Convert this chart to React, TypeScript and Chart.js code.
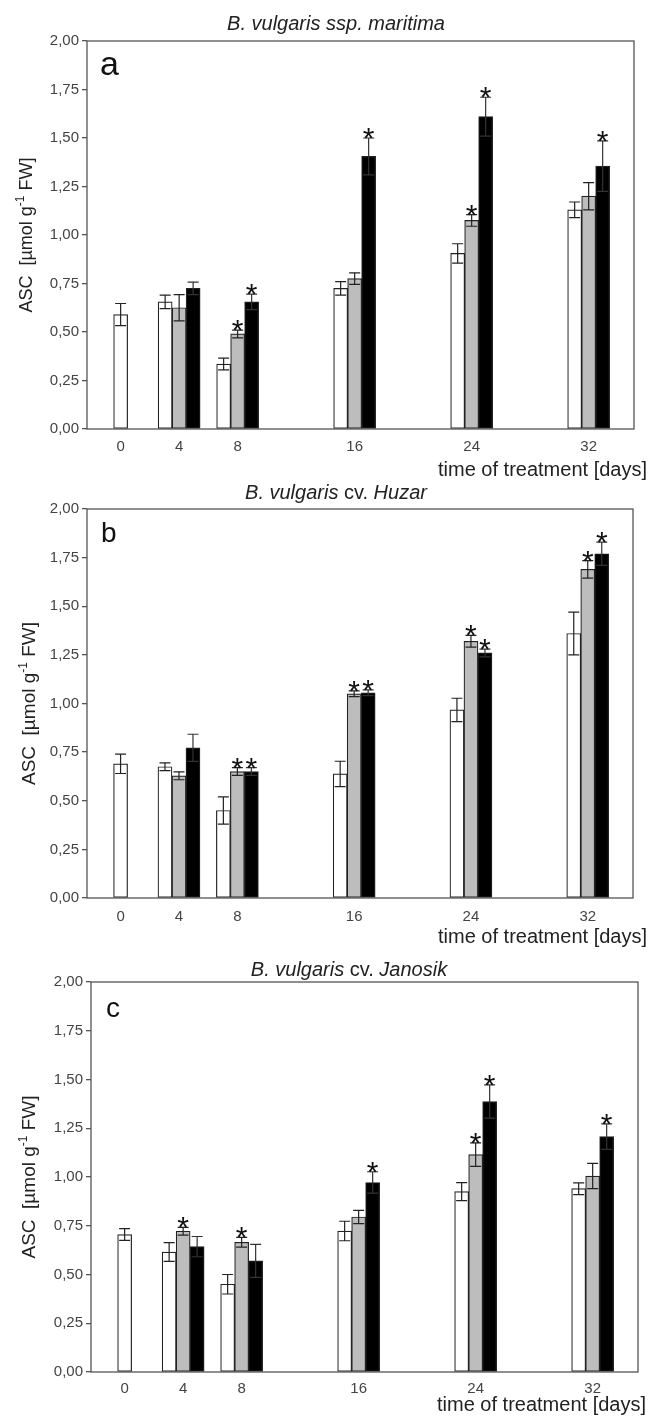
import React, { useEffect, useRef } from "react";
import { Chart, registerables } from "chart.js";
Chart.register(...registerables);

// ---------- data ----------
const days = [0, 4, 8, 16, 24, 32];
const xTickLabels = ["0", "4", "8", "16", "24", "32"];
const yTickValues = [0, 0.25, 0.5, 0.75, 1, 1.25, 1.5, 1.75, 2];
const yTickLabels = ["0,00", "0,25", "0,50", "0,75", "1,00", "1,25", "1,50", "1,75", "2,00"];
const xAxisTitle = "time of treatment [days]";

// panel a – B. vulgaris ssp. maritima
const aWhite = [0.59, 0.655, 0.335, 0.725, 0.905, 1.13];
const aWhiteErr = [0.057, 0.035, 0.03, 0.035, 0.05, 0.04];
const aGray = [null, 0.625, 0.49, 0.775, 1.075, 1.2];
const aGrayErr = [null, 0.068, 0.02, 0.03, 0.03, 0.07];
const aBlack = [null, 0.725, 0.655, 1.405, 1.61, 1.355];
const aBlackErr = [null, 0.032, 0.04, 0.095, 0.1, 0.13];
const aWhiteSig = [false, false, false, false, false, false];
const aGraySig = [false, false, true, false, true, false];
const aBlackSig = [false, false, true, true, true, true];

// panel b – B. vulgaris cv. Huzar
const bWhite = [0.69, 0.675, 0.45, 0.638, 0.967, 1.36];
const bWhiteErr = [0.05, 0.02, 0.07, 0.065, 0.06, 0.11];
const bGray = [null, 0.628, 0.65, 1.05, 1.32, 1.69];
const bGrayErr = [null, 0.02, 0.02, 0.015, 0.03, 0.045];
const bBlack = [null, 0.772, 0.65, 1.055, 1.26, 1.77];
const bBlackErr = [null, 0.07, 0.02, 0.015, 0.02, 0.06];
const bWhiteSig = [false, false, false, false, false, false];
const bGraySig = [false, false, true, true, true, true];
const bBlackSig = [false, false, true, true, true, true];

// panel c – B. vulgaris cv. Janosik
const cWhite = [0.705, 0.615, 0.45, 0.723, 0.925, 0.94];
const cWhiteErr = [0.03, 0.048, 0.05, 0.05, 0.046, 0.03];
const cGray = [null, 0.722, 0.665, 0.795, 1.115, 1.005];
const cGrayErr = [null, 0.02, 0.025, 0.034, 0.06, 0.065];
const cBlack = [null, 0.643, 0.57, 0.972, 1.387, 1.207];
const cBlackErr = [null, 0.052, 0.085, 0.055, 0.085, 0.065];
const cWhiteSig = [false, false, false, false, false, false];
const cGraySig = [false, true, true, false, true, false];
const cBlackSig = [false, false, false, true, true, true];

const aTitle: [string, boolean][] = [["B. vulgaris ssp. maritima", true]];
const bTitle: [string, boolean][] = [["B. vulgaris ", true], ["cv. ", false], ["Huzar", true]];
const cTitle: [string, boolean][] = [["B. vulgaris ", true], ["cv. ", false], ["Janosik", true]];

// ---------- styling / layout ----------
const FONT = "'Liberation Sans', Arial, sans-serif";
const AXIS_COLOR = "#555";
const TEXT_GRAY = "#444";
const FILLS = ["#ffffff", "#bdbdbd", "#000000"];

const panels = [
  {
    letter: "a", letterSize: 34, title: aTitle, canvasTop: 0, H: 480,
    left: 87, right: 634, top: 41, bottom: 429, xPad: 1,
    titleX: 336, titleDy: -17, letterDx: 13, letterDy: 34, xlabDy: 41, xlabRight: 647, ylabX: 27, ylabSize: 18,
    series: [aWhite, aGray, aBlack], errs: [aWhiteErr, aGrayErr, aBlackErr], sigs: [aWhiteSig, aGraySig, aBlackSig],
  },
  {
    letter: "b", letterSize: 28, title: bTitle, canvasTop: 480, H: 468,
    left: 87, right: 633, top: 29, bottom: 418, xPad: 1.5,
    titleX: 336, titleDy: -16, letterDx: 14, letterDy: 33, xlabDy: 39, xlabRight: 647, ylabX: 30, ylabSize: 19,
    series: [bWhite, bGray, bBlack], errs: [bWhiteErr, bGrayErr, bBlackErr], sigs: [bWhiteSig, bGraySig, bBlackSig],
  },
  {
    letter: "c", letterSize: 28, title: cTitle, canvasTop: 948, H: 472,
    left: 91, right: 638, top: 34, bottom: 424, xPad: 0,
    titleX: 349, titleDy: -12, letterDx: 15, letterDy: 35, xlabDy: 33, xlabRight: 646, ylabX: 30, ylabSize: 19,
    series: [cWhite, cGray, cBlack], errs: [cWhiteErr, cGrayErr, cBlackErr], sigs: [cWhiteSig, cGraySig, cBlackSig],
  },
];

const errorBarPlugin = {
  id: "errorBars",
  afterDatasetsDraw(chart: any) {
    const ctx = chart.ctx;
    const ys = chart.scales.y;
    ctx.save();
    chart.data.datasets.forEach((ds: any, di: number) => {
      const meta = chart.getDatasetMeta(di);
      meta.data.forEach((bar: any, i: number) => {
        const v = ds.data[i].y;
        const e = ds.errors[i];
        if (v == null || e == null) return;
        const x = bar.x;
        const yT = ys.getPixelForValue(v + e);
        const yB = ys.getPixelForValue(v - e);
        const cw = 5.5;
        ctx.strokeStyle = di === 2 ? "#333" : "#222";
        ctx.lineWidth = 1.2;
        ctx.beginPath();
        ctx.moveTo(x, yT);
        ctx.lineTo(x, yB);
        ctx.moveTo(x - cw, yT);
        ctx.lineTo(x + cw, yT);
        ctx.moveTo(x - cw, yB);
        ctx.lineTo(x + cw, yB);
        ctx.stroke();
        if (ds.sig[i]) {
          ctx.fillStyle = "#111";
          ctx.font = `30px ${FONT}`;
          ctx.textAlign = "center";
          ctx.textBaseline = "alphabetic";
          const m = ctx.measureText("*");
          const base = yT + 1 - m.actualBoundingBoxDescent;
          ctx.fillText("*", x, base);
        }
      });
    });
    ctx.restore();
  },
};

const annotationPlugin = {
  id: "annotations",
  afterDraw(chart: any) {
    const cfg = chart.options.plugins.annotations;
    const ctx = chart.ctx;
    const ca = chart.chartArea;
    ctx.save();
    // frame
    ctx.strokeStyle = AXIS_COLOR;
    ctx.lineWidth = 1.3;
    ctx.strokeRect(ca.left, ca.top, ca.right - ca.left, ca.bottom - ca.top);
    // title
    ctx.fillStyle = "#222";
    ctx.textBaseline = "middle";
    ctx.textAlign = "left";
    const segs = cfg.title as [string, boolean][];
    const fontOf = (it: boolean) => `${it ? "italic " : ""}20px ${FONT}`;
    let total = 0;
    segs.forEach(([t, it]) => { ctx.font = fontOf(it); total += ctx.measureText(t).width; });
    let x = cfg.titleX - total / 2;
    const ty = ca.top + cfg.titleDy;
    segs.forEach(([t, it]) => { ctx.font = fontOf(it); ctx.fillText(t, x, ty); x += ctx.measureText(t).width; });
    // panel letter
    ctx.fillStyle = "#111";
    ctx.font = `${cfg.letterSize}px ${FONT}`;
    ctx.textBaseline = "alphabetic";
    ctx.fillText(cfg.letter, ca.left + cfg.letterDx, ca.top + cfg.letterDy);
    // x axis title
    ctx.fillStyle = "#222";
    ctx.font = `20px ${FONT}`;
    ctx.textAlign = "right";
    ctx.textBaseline = "middle";
    ctx.fillText(xAxisTitle, cfg.xlabRight, ca.bottom + cfg.xlabDy);
    // y axis title with superscript
    const fs = cfg.ylabSize;
    const ySegs: [string, boolean][] = [["ASC  [µmol g", false], ["-1", true], [" FW]", false]];
    const yFont = (sup: boolean) => `${sup ? Math.round(fs * 0.65) : fs}px ${FONT}`;
    let yt = 0;
    ySegs.forEach(([t, s]) => { ctx.font = yFont(s); yt += ctx.measureText(t).width; });
    ctx.translate(cfg.ylabX, (ca.top + ca.bottom) / 2);
    ctx.rotate(-Math.PI / 2);
    ctx.textAlign = "left";
    ctx.textBaseline = "middle";
    let px = -yt / 2;
    ySegs.forEach(([t, s]) => {
      ctx.font = yFont(s);
      ctx.fillText(t, px, s ? -fs * 0.35 : 0);
      px += ctx.measureText(t).width;
    });
    ctx.restore();
  },
};

function Panel({ p }: { p: any }) {
  const ref = useRef<HTMLCanvasElement | null>(null);
  useEffect(() => {
    if (!ref.current) return;
    const datasets = p.series.map((vals: (number | null)[], k: number) => ({
      label: ["control", "treatment 1", "treatment 2"][k],
      data: days.map((d, i) => ({ x: d, y: vals[i] })),
      errors: p.errs[k],
      sig: p.sigs[k],
      backgroundColor: FILLS[k],
      borderColor: "#222",
      borderWidth: 1.2,
      borderSkipped: false,
      barThickness: 14,
      skipNull: true,
    }));
    const chart = new Chart(ref.current, {
      type: "bar",
      data: { datasets },
      options: {
        animation: false,
        responsive: false,
        maintainAspectRatio: false,
        layout: { padding: { top: p.top, right: 649 - p.right, left: 0, bottom: 0 } },
        plugins: {
          legend: { display: false },
          tooltip: { enabled: false },
          title: { display: false },
          annotations: p,
        } as any,
        scales: {
          x: {
            type: "linear",
            min: -2.3,
            max: 35.1,
            offset: false,
            grid: { display: false },
            border: { display: false },
            afterBuildTicks: (s: any) => { s.ticks = days.map((v) => ({ value: v })); },
            afterFit: (s: any) => { s.height = p.H - p.bottom; },
            ticks: {
              autoSkip: false,
              maxRotation: 0,
              padding: p.xPad,
              color: TEXT_GRAY,
              font: { family: FONT, size: 15 },
              callback: (v: any) => { const i = days.indexOf(Number(v)); return i >= 0 ? xTickLabels[i] : ""; },
            },
          },
          y: {
            type: "linear",
            min: 0,
            max: 2,
            afterBuildTicks: (s: any) => { s.ticks = yTickValues.map((v) => ({ value: v })); },
            afterFit: (s: any) => { s.width = p.left; },
            grid: { drawOnChartArea: false, drawTicks: true, tickLength: 5, color: AXIS_COLOR, lineWidth: 1.3 },
            border: { display: false },
            ticks: {
              padding: 3,
              color: TEXT_GRAY,
              font: { family: FONT, size: 15 },
              callback: (v: any) => { const i = yTickValues.indexOf(Number(v)); return i >= 0 ? yTickLabels[i] : ""; },
            },
          },
        },
      } as any,
      plugins: [errorBarPlugin, annotationPlugin],
    });
    return () => chart.destroy();
  }, [p]);
  return (
    <canvas
      ref={ref}
      width={649}
      height={p.H}
      style={{ position: "absolute", left: 0, top: p.canvasTop, width: 649, height: p.H, display: "block" }}
    />
  );
}

export default function App() {
  return (
    <div style={{ position: "absolute", left: 0, top: 0, width: 649, height: 1420, background: "#fff", overflow: "hidden" }}>
      {panels.map((p) => (
        <Panel key={p.letter} p={p} />
      ))}
    </div>
  );
}
